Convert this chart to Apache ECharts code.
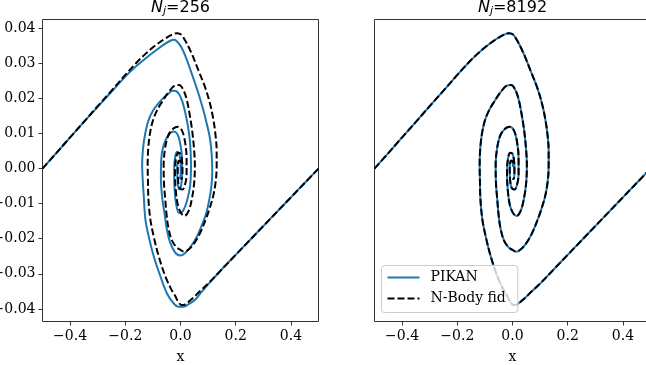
<!DOCTYPE html>
<html>
<head>
<meta charset="utf-8">
<title>phase space</title>
<script src="https://cdn.jsdelivr.net/npm/echarts@6/dist/echarts.min.js"></script>
<style>
  html, body { margin: 0; padding: 0; background: #fff; }
  #main { width: 646px; height: 365px; }
</style>
</head>
<body>
<div id="main"></div>
<script>
// ---- data (x, v) ----
// fiducial N-body run, arm starting at x=-0.5
const nbodyArmA = [
  [-0.50, 0.0000], [-0.45, 0.0044], [-0.40, 0.0089], [-0.35, 0.0133], [-0.30, 0.0178],
  [-0.25, 0.0222], [-0.20, 0.0267], [-0.163, 0.0299], [-0.127, 0.0327], [-0.091, 0.0351],
  [-0.055, 0.0371], [-0.030, 0.0382], [-0.012, 0.0386], [0.002, 0.0382], [0.017, 0.0365],
  [0.041, 0.0327], [0.065, 0.0280], [0.089, 0.0232], [0.107, 0.0185], [0.119, 0.0140],
  [0.127, 0.0095], [0.131, 0.0050], [0.131, 0.0005], [0.127, -0.0040], [0.118, -0.0080],
  [0.106, -0.0112], [0.093, -0.0142], [0.071, -0.0184], [0.047, -0.0216], [0.027, -0.0232],
  [0.013, -0.0237], [0.000, -0.0232], [-0.015, -0.0224], [-0.031, -0.0205], [-0.043, -0.0172],
  [-0.050, -0.0135], [-0.055, -0.0090], [-0.060, -0.0040], [-0.061, 0.0010], [-0.056, 0.0057],
  [-0.044, 0.0095], [-0.026, 0.0114], [-0.010, 0.0119], [0.005, 0.0109], [0.016, 0.0078],
  [0.022, 0.0030], [0.022, -0.0018], [0.016, -0.0047], [0.007, -0.0060], [-0.003, -0.0055],
  [-0.009, -0.0030], [-0.010, 0.0000], [-0.006, 0.0022], [-0.001, 0.0022], [0.002, 0.0005]
];
// fiducial N-body run, arm starting at x=+0.5
const nbodyArmB = [
  [0.50, 0.0000], [0.45, -0.0041], [0.40, -0.0082], [0.35, -0.0123], [0.30, -0.0164],
  [0.25, -0.0205], [0.20, -0.0246], [0.15, -0.0287], [0.10, -0.0328], [0.070, -0.0350],
  [0.041, -0.0372], [0.017, -0.0387], [0.004, -0.0389], [-0.008, -0.0380], [-0.020, -0.0362],
  [-0.033, -0.0345], [-0.055, -0.0307], [-0.079, -0.0250], [-0.097, -0.0194], [-0.109, -0.0146],
  [-0.116, -0.0090], [-0.118, -0.0035], [-0.119, 0.0010], [-0.117, 0.0055], [-0.111, 0.0098],
  [-0.100, 0.0137], [-0.085, 0.0166], [-0.067, 0.0190], [-0.043, 0.0218], [-0.019, 0.0237],
  [-0.005, 0.0238], [0.011, 0.0223], [0.023, 0.0195], [0.033, 0.0155], [0.042, 0.0110],
  [0.049, 0.0057], [0.052, 0.0010], [0.050, -0.0037], [0.042, -0.0083], [0.030, -0.0120],
  [0.015, -0.0135], [0.003, -0.0128], [-0.009, -0.0106], [-0.017, -0.0062], [-0.020, -0.0012],
  [-0.016, 0.0030], [-0.008, 0.0045], [0.000, 0.0042], [0.006, 0.0020], [0.007, -0.0010],
  [0.004, -0.0030], [0.000, -0.0030]
];
// PIKAN, N_j = 256
const pikan256ArmA = [
  [-0.50, 0.0000], [-0.45, 0.0044], [-0.40, 0.0089], [-0.35, 0.0133], [-0.30, 0.0176],
  [-0.25, 0.0219], [-0.20, 0.0262], [-0.163, 0.0290], [-0.127, 0.0314], [-0.091, 0.0336],
  [-0.055, 0.0356], [-0.035, 0.0365], [-0.022, 0.0367], [-0.010, 0.0360], [0.002, 0.0347],
  [0.017, 0.0322], [0.041, 0.0270], [0.065, 0.0214], [0.083, 0.0166], [0.096, 0.0125],
  [0.107, 0.0085], [0.113, 0.0040], [0.115, -0.0010], [0.112, -0.0050], [0.104, -0.0090],
  [0.093, -0.0128], [0.078, -0.0160], [0.062, -0.0190], [0.041, -0.0218], [0.017, -0.0241],
  [0.000, -0.0248], [-0.019, -0.0240], [-0.037, -0.0212], [-0.049, -0.0175], [-0.058, -0.0127],
  [-0.066, -0.0085], [-0.071, -0.0030], [-0.070, 0.0025], [-0.061, 0.0067], [-0.043, 0.0096],
  [-0.025, 0.0106], [-0.012, 0.0099], [-0.002, 0.0075], [0.005, 0.0035], [0.006, -0.0015],
  [0.002, -0.0050], [-0.005, -0.0060], [-0.010, -0.0040], [-0.012, -0.0003], [-0.009, 0.0020],
  [-0.005, 0.0020]
];
const pikan256ArmB = [
  [0.50, 0.0000], [0.45, -0.0041], [0.40, -0.0082], [0.35, -0.0123], [0.30, -0.0164],
  [0.25, -0.0205], [0.20, -0.0246], [0.15, -0.0287], [0.10, -0.0330], [0.070, -0.0358],
  [0.053, -0.0374], [0.029, -0.0387], [0.011, -0.0394], [-0.007, -0.0394], [-0.025, -0.0384],
  [-0.049, -0.0356], [-0.073, -0.0307], [-0.097, -0.0250], [-0.115, -0.0194], [-0.127, -0.0146],
  [-0.133, -0.0080], [-0.137, -0.0030], [-0.139, 0.0010], [-0.136, 0.0055], [-0.129, 0.0095],
  [-0.117, 0.0135], [-0.100, 0.0165], [-0.080, 0.0186], [-0.060, 0.0203], [-0.043, 0.0214],
  [-0.029, 0.0222], [-0.017, 0.0221], [-0.005, 0.0212], [0.005, 0.0195], [0.014, 0.0170],
  [0.023, 0.0138], [0.030, 0.0105], [0.035, 0.0070], [0.038, 0.0010], [0.035, -0.0047],
  [0.023, -0.0094], [0.008, -0.0122], [-0.005, -0.0127], [-0.016, -0.0100], [-0.022, -0.0050],
  [-0.023, 0.0000], [-0.019, 0.0035], [-0.012, 0.0048], [-0.005, 0.0042], [0.000, 0.0020],
  [0.001, -0.0010], [-0.002, -0.0030]
];
// PIKAN, N_j = 8192: lies on top of the fiducial curve in the picture
const pikan8192ArmA = nbodyArmA;
const pikan8192ArmB = nbodyArmB;

const panelTitles = ['256', '8192'];
const xTicks = [-0.4, -0.2, 0.0, 0.2, 0.4];
const yTicks = [-0.04, -0.03, -0.02, -0.01, 0.00, 0.01, 0.02, 0.03, 0.04];

const SERIF = 'DejaVu Serif';
const BLUE = '#1f77b4';
const fmt = (v, d) => (v < -1e-9 ? '\u2212' : '') + Math.abs(v).toFixed(d);

const chart = echarts.init(document.getElementById('main'), null, { renderer: 'canvas' });

// 两个子图
const grids = [
  { left: 42.5, top: 19.5, width: 276, height: 302 },
  { left: 374.5, top: 19.5, width: 276, height: 302 }
].map(g => Object.assign(g, {
  show: true, borderColor: '#333', borderWidth: 1, backgroundColor: 'transparent',
  containLabel: false, outerBoundsMode: 'none'
}));

function xAxisFor(i) {
  return {
    type: 'value', gridIndex: i, min: -0.5, max: 0.5, position: 'bottom',
    name: 'x', nameLocation: 'middle', nameGap: 29,
    nameTextStyle: { fontFamily: SERIF, fontSize: 14, color: '#000' },
    axisLine: { show: false, onZero: false },
    axisTick: { show: true, customValues: xTicks, length: 4, lineStyle: { color: '#333' } },
    axisLabel: { customValues: xTicks, margin: 8, fontFamily: SERIF, fontSize: 14, color: '#000',
      formatter: v => fmt(v, 1) },
    splitLine: { show: false }
  };
}
function yAxisFor(i) {
  return {
    type: 'value', gridIndex: i, min: -0.0436, max: 0.0425, position: 'left',
    axisLine: { show: false, onZero: false },
    axisTick: { show: i === 0, customValues: yTicks, length: 4, lineStyle: { color: '#333' } },
    axisLabel: { show: i === 0, customValues: yTicks, margin: 7, fontFamily: SERIF, fontSize: 14, color: '#000',
      formatter: v => fmt(v, 2) },
    splitLine: { show: false }
  };
}

function curve(name, data, i, color, dashed) {
  return {
    type: 'line', name: name, data: data, xAxisIndex: i, yAxisIndex: i,
    symbol: 'none', showSymbol: false, smooth: 0.35, silent: true,
    lineStyle: { color: color, width: 2, type: dashed ? [7, 3] : 'solid' },
    itemStyle: { color: color }
  };
}

const titleRich = {
  n: { fontFamily: 'DejaVu Sans', fontStyle: 'italic', fontWeight: 'normal', fontSize: 16, color: '#000', verticalAlign: 'top', lineHeight: 20 },
  s: { fontFamily: 'DejaVu Sans', fontStyle: 'italic', fontWeight: 'normal', fontSize: 11, color: '#000', verticalAlign: 'top', lineHeight: 20, padding: [6, 0, 0, 0] },
  t: { fontFamily: 'DejaVu Sans', fontWeight: 'normal', fontSize: 16, color: '#000', verticalAlign: 'top', lineHeight: 20 }
};

const option = {
  animation: false,
  backgroundColor: '#fff',
  title: panelTitles.map((t, i) => ({
    text: '{n|N}{s|j}{t|=' + t + '}',
    left: i === 0 ? 180.5 : 512.5, top: 0, padding: 0, textAlign: 'center',
    textStyle: { fontWeight: 'normal', rich: titleRich }
  })),
  legend: {
    data: ['PIKAN', 'N-Body fid'],
    orient: 'vertical', left: 381.5, top: 265.5,
    padding: [5, 12, 7, 5], itemGap: 7, itemWidth: 32, itemHeight: 14,
    itemStyle: { opacity: 0 },
    backgroundColor: 'rgba(255,255,255,0.8)', borderColor: '#cccccc', borderWidth: 1, borderRadius: 3,
    textStyle: { fontFamily: SERIF, fontSize: 14, color: '#000', padding: [0, 0, 0, 6] }
  },
  grid: grids,
  xAxis: [xAxisFor(0), xAxisFor(1)],
  yAxis: [yAxisFor(0), yAxisFor(1)],
  series: [
    curve('PIKAN', pikan256ArmA, 0, BLUE, false),
    curve('PIKAN', pikan256ArmB, 0, BLUE, false),
    curve('N-Body fid', nbodyArmA, 0, '#000', true),
    curve('N-Body fid', nbodyArmB, 0, '#000', true),
    curve('PIKAN', pikan8192ArmA, 1, BLUE, false),
    curve('PIKAN', pikan8192ArmB, 1, BLUE, false),
    curve('N-Body fid', nbodyArmA, 1, '#000', true),
    curve('N-Body fid', nbodyArmB, 1, '#000', true)
  ]
};

chart.setOption(option);
</script>
</body>
</html>
